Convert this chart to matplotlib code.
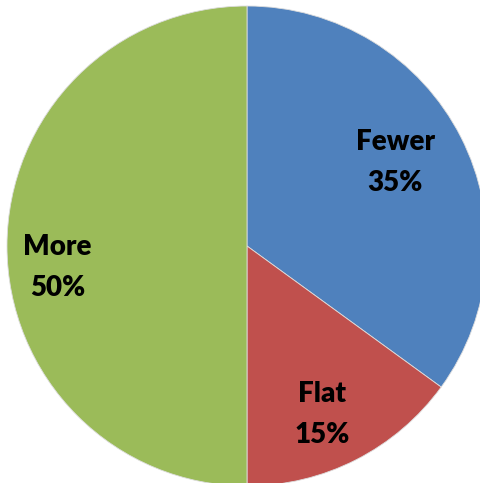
import numpy as np
import matplotlib.pyplot as plt

# slices, clockwise from 12 o'clock
labels = ['Fewer', 'Flat', 'More']
shares = [35, 15, 50]
colors = ['#4F81BD', '#C0504D', '#9BBB59']
# label placement: distance (fraction of radius) and angle nudge (deg)
label_r = [0.71, 0.77, 0.795]
label_da = [2.4, -2.9, 6.5]

fig = plt.figure(figsize=(4.81, 4.83), dpi=100)
W, H = 481, 483
cx, cy, R = 247, 246, 240
ax = fig.add_axes([(cx - R) / W, (H - cy - R) / H, 2 * R / W, 2 * R / H])

wedges, _ = ax.pie(shares, colors=colors, startangle=90, counterclock=False,
                   radius=1, wedgeprops={'linewidth': 0.6, 'edgecolor': '#dddddd'})

for w, lab, val, r, da in zip(wedges, labels, shares, label_r, label_da):
    mid = np.deg2rad((w.theta1 + w.theta2) / 2 + da)
    x, y = r * np.cos(mid), r * np.sin(mid)
    ax.text(x, y, f'{lab}\n{val}%', ha='center', va='center',
            fontsize=20, fontweight='heavy', family='Lato',
            linespacing=1.7, color='black')

ax.set_xlim(-1, 1)
ax.set_ylim(-1, 1)
ax.set_aspect('equal')
ax.axis('off')

fig.savefig('out.png', dpi=100)
